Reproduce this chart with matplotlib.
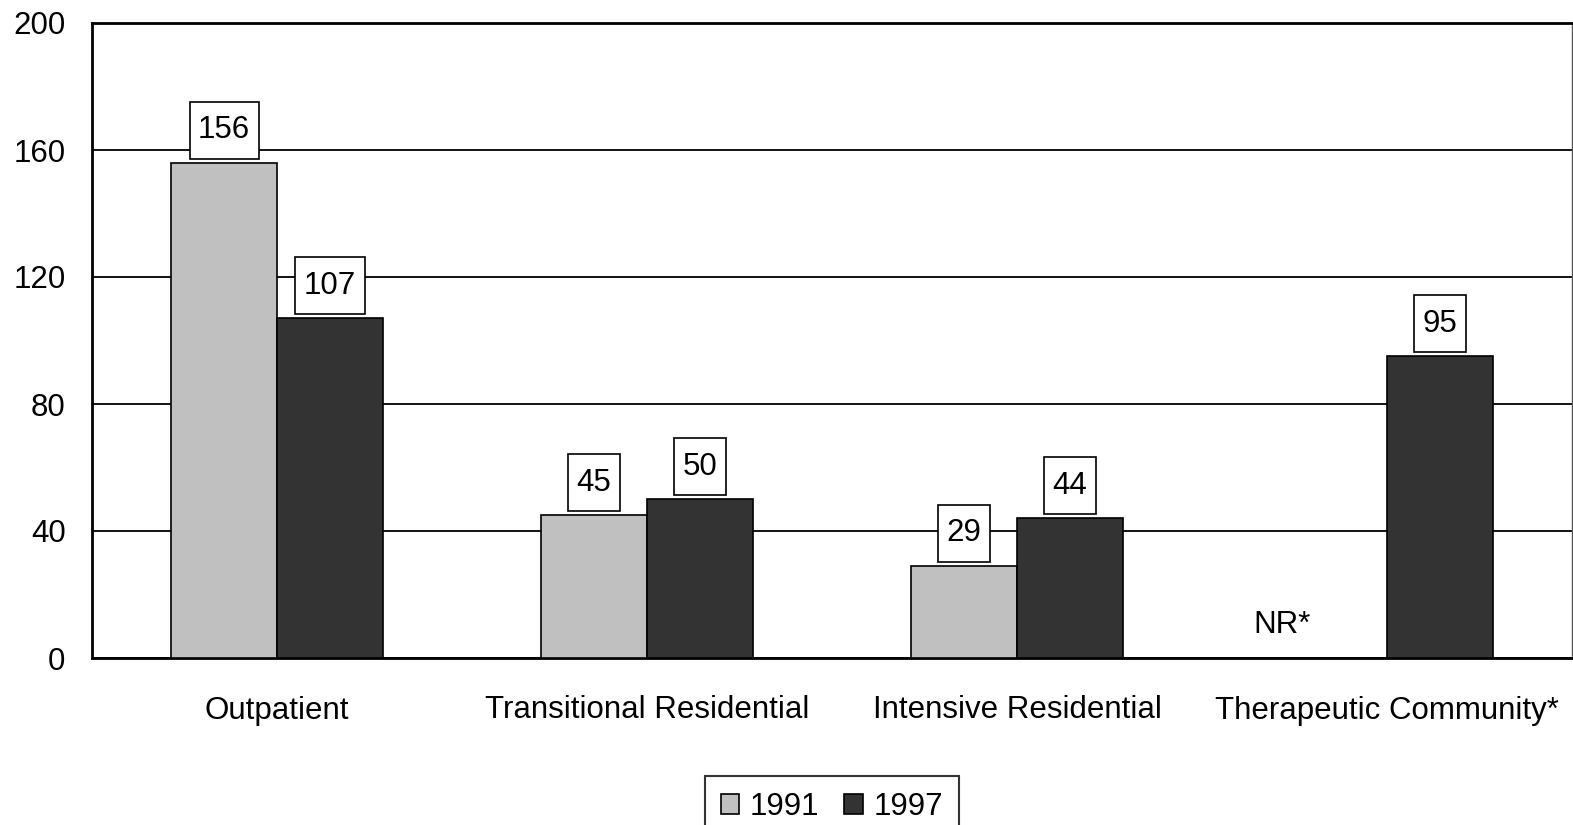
import matplotlib.pyplot as plt
from matplotlib.path import Path
import numpy as np

plt.rcParams['font.family'] = ['Liberation Sans', 'DejaVu Sans']

categories = ['Outpatient', 'Transitional Residential', 'Intensive Residential', 'Therapeutic Community*']
values_1991 = [156, 45, 29, np.nan]
values_1997 = [107, 50, 44, 95]
y_ticks = [0, 40, 80, 120, 160, 200]

fs = 22.5


def label_box(x0, y0, width, height, mutation_size):
    # rectangle with more padding top/bottom than left/right (pixels)
    px, py = 8.5, 13.5
    return Path([(x0 - px, y0 - py), (x0 + width + px, y0 - py),
                 (x0 + width + px, y0 + height + py), (x0 - px, y0 + height + py),
                 (x0 - px, y0 - py)], closed=True)


fig = plt.figure(figsize=(15.73, 8.25), dpi=100)
ax = fig.add_axes([92 / 1573, 1 - 658 / 825, 1480 / 1573, 635 / 825])

x = np.arange(len(categories))
w = 0.286
ax.bar(x - w / 2, values_1991, w, color='#c0c0c0', edgecolor='black', linewidth=1.2, label='1991', zorder=3)
ax.bar(x + w / 2, values_1997, w, color='#333333', edgecolor='black', linewidth=1.2, label='1997', zorder=3)

# value boxes above each bar
for xs, vals in [(x - w / 2, values_1991), (x + w / 2, values_1997)]:
    for xi, v in zip(xs, vals):
        if np.isnan(v):
            continue
        ax.annotate(str(v), (xi, v), xytext=(0, 12.6), textcoords='offset points',
                    ha='center', va='bottom', fontsize=fs, zorder=4,
                    bbox=dict(boxstyle=label_box, fc='white', ec='black', lw=1.2))

ax.text(2.716, 10.4, 'NR*', ha='center', va='center', fontsize=fs)

ax.set_xlim(-0.5, 3.5)
ax.set_ylim(0, 200)
ax.set_yticks(y_ticks)
ax.set_xticks(x)
ax.set_xticklabels(categories)
ax.tick_params(axis='both', length=0, labelsize=fs)
ax.tick_params(axis='x', pad=27)
ax.tick_params(axis='y', pad=19)
ax.yaxis.grid(True, color='black', linewidth=1.3, zorder=0)
ax.set_axisbelow(True)
for s in ['left', 'top', 'bottom']:
    ax.spines[s].set_linewidth(2)
ax.spines['right'].set_linewidth(1)
ax.spines['right'].set_color('#555555')

leg = ax.legend(loc='upper center', bbox_to_anchor=(0.5, -0.162), ncol=2, fontsize=fs,
                frameon=True, fancybox=False, edgecolor='black', handlelength=0.58,
                handleheight=0.58, handletextpad=0.35, columnspacing=0.8, borderpad=0.5)
leg.get_frame().set_linewidth(1.5)

fig.savefig('out.png', dpi=100)
